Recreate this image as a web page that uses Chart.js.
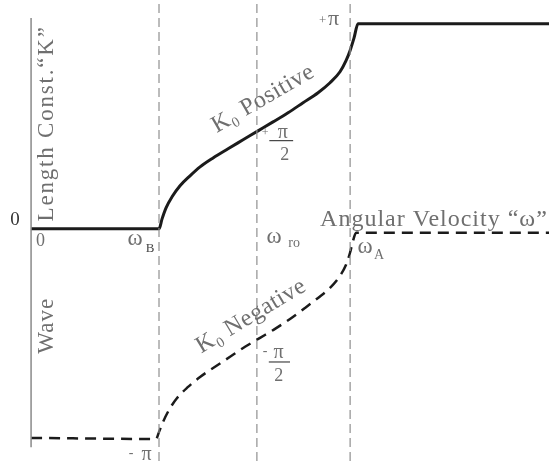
<!DOCTYPE html>
<html>
<head>
<meta charset="utf-8">
<script src="https://cdn.jsdelivr.net/npm/chart.js@4.4.1/dist/chart.umd.min.js"></script>
<style>
body{margin:0;background:#fff}
#wrap{width:549px;height:461px}
</style>
</head>
<body>
<div id="wrap"><canvas id="c" width="549" height="461"></canvas></div>
<script>
// omega in arbitrary units (origin = 0), K in units of pi
let posOmega = [0, 24.71, 25.29, 26.06, 27.22, 28.76, 30.69, 32.63, 35.14, 38.03, 40.93, 43.82, 46.72, 49.61, 52.51, 55.41, 57.72, 59.65, 60.81, 61.58, 62.36, 63.13, 100]
let posK     = [0, 0, 0.048, 0.101, 0.154, 0.207, 0.255, 0.298, 0.341, 0.385, 0.428, 0.471, 0.514, 0.558, 0.606, 0.654, 0.702, 0.755, 0.808, 0.856, 0.918, 0.986, 0.986]

let negOmega = [0, 24.13, 24.71, 25.48, 26.64, 28.19, 30.31, 32.63, 35.52, 38.42, 41.31, 44.21, 47.10, 50.0, 52.90, 55.41, 57.72, 59.65, 60.81, 61.58, 62.16, 62.74, 100]
let negK     = [-1.005, -1.01, -0.976, -0.928, -0.870, -0.813, -0.760, -0.712, -0.663, -0.615, -0.567, -0.524, -0.481, -0.433, -0.380, -0.332, -0.284, -0.226, -0.173, -0.115, -0.058, -0.019, -0.019]

// characteristic frequencies: omega_B, omega_ro, omega_A
let markOmega = [24.7, 43.6, 61.6]

// axis extents
let kAxisTop = 1.013
let kAxisBottom = -1.05
let kMin = -1.116
let kMax = 1.1

function pts(xs, ys){
  return xs.map((x,i)=>({x:x, y:ys[i]}))
}

let datasets = []

markOmega.forEach(w=>{
  datasets.push({
    data: pts([w,w],[kMin,kMax]),
    borderColor:"#8f8f8f", borderWidth:1.2, borderDash:[9,5], pointRadius:0
  })
})

datasets.push({
  data: pts([0,0],[kAxisTop,kAxisBottom]),
  borderColor:"#8a8a8a", borderWidth:1.5, pointRadius:0
})

datasets.push({
  data: pts(posOmega,posK),
  borderColor:"#1b1b1b", borderWidth:3, pointRadius:0,
  cubicInterpolationMode:"monotone"
})

datasets.push({
  data: pts(negOmega,negK),
  borderColor:"#1b1b1b", borderWidth:2.5, borderDash:[11,7], pointRadius:0,
  cubicInterpolationMode:"monotone"
})

let grey = "#6f6f6f"
let serif = "'Liberation Serif', 'DejaVu Serif', serif"

// text notes, anchored in data coordinates
let notes = [
  {t:"0", x:-3.1, y:0.04, size:19, color:"#333"},
  {t:"0", x:1.8, y:-0.06, size:18},
  {t:"ω", x:20.1, y:-0.05, size:23},
  {t:"B", x:23.0, y:-0.095, size:13, color:"#444"},
  {t:"ω", x:46.9, y:-0.04, size:23},
  {t:"ro", x:50.8, y:-0.07, size:14},
  {t:"ω", x:64.5, y:-0.085, size:23},
  {t:"A", x:67.2, y:-0.125, size:14},
  {t:"+", x:56.3, y:1.0, size:13},
  {t:"π", x:58.4, y:1.01, size:22},
  {t:"+", x:45.2, y:0.46, size:12},
  {t:"π", x:48.6, y:0.462, size:20},
  {t:"2", x:49.0, y:0.354, size:18},
  {t:"-", x:45.2, y:-0.59, size:14},
  {t:"π", x:47.8, y:-0.594, size:20},
  {t:"2", x:47.8, y:-0.71, size:18},
  {t:"-", x:19.3, y:-1.08, size:14},
  {t:"π", x:22.3, y:-1.085, size:20},
  {t:"Angular Velocity “ω”", x:55.8, y:0.045, size:24, align:"left", sp:1},
  {t:"Length Const.“K”", x:3.1, y:0.507, size:23, rot:-90, sp:1.8},
  {t:"Wave", x:3.1, y:-0.466, size:23, rot:-90, sp:1},
  {t:"K₀ Positive", x:44.8, y:0.625, size:24, rot:-30, sp:0.5},
  {t:"K₀ Negative", x:42.5, y:-0.42, size:24, rot:-31, sp:0.5}
]

// fraction bars for pi/2 labels
let bars = [
  {x1:46.0, x2:50.6, y:0.424},
  {x1:45.9, x2:50.0, y:-0.64}
]

let notePlugin = {
  id:"notes",
  beforeDraw(chart){
    let ctx = chart.ctx
    ctx.save()
    ctx.fillStyle = "#fff"
    ctx.fillRect(0,0,chart.width,chart.height)
    ctx.restore()
  },
  afterDraw(chart){
    let ctx = chart.ctx
    let xs = chart.scales.x, ys = chart.scales.y
    ctx.save()
    notes.forEach(n=>{
      let px = xs.getPixelForValue(n.x)
      let py = ys.getPixelForValue(n.y)
      ctx.save()
      ctx.translate(px,py)
      if(n.rot) ctx.rotate(n.rot*Math.PI/180)
      ctx.font = n.size+"px "+serif
      ctx.letterSpacing = (n.sp||0)+"px"
      ctx.fillStyle = n.color || grey
      ctx.textAlign = n.align || "center"
      ctx.textBaseline = "middle"
      ctx.fillText(n.t,0,0)
      ctx.restore()
    })
    ctx.strokeStyle = "#444"
    ctx.lineWidth = 1.2
    bars.forEach(b=>{
      let py = ys.getPixelForValue(b.y)
      ctx.beginPath()
      ctx.moveTo(xs.getPixelForValue(b.x1),py)
      ctx.lineTo(xs.getPixelForValue(b.x2),py)
      ctx.stroke()
    })
    ctx.restore()
  }
}

new Chart(document.getElementById("c"),{
  type:"line",
  data:{datasets:datasets},
  options:{
    responsive:false,
    animation:false,
    layout:{padding:0, autoPadding:false},
    plugins:{legend:{display:false}, tooltip:{enabled:false}},
    scales:{
      x:{type:"linear", min:-6, max:100, display:false},
      y:{type:"linear", min:kMin, max:kMax, display:false}
    }
  },
  plugins:[notePlugin]
})
</script>
</body>
</html>
